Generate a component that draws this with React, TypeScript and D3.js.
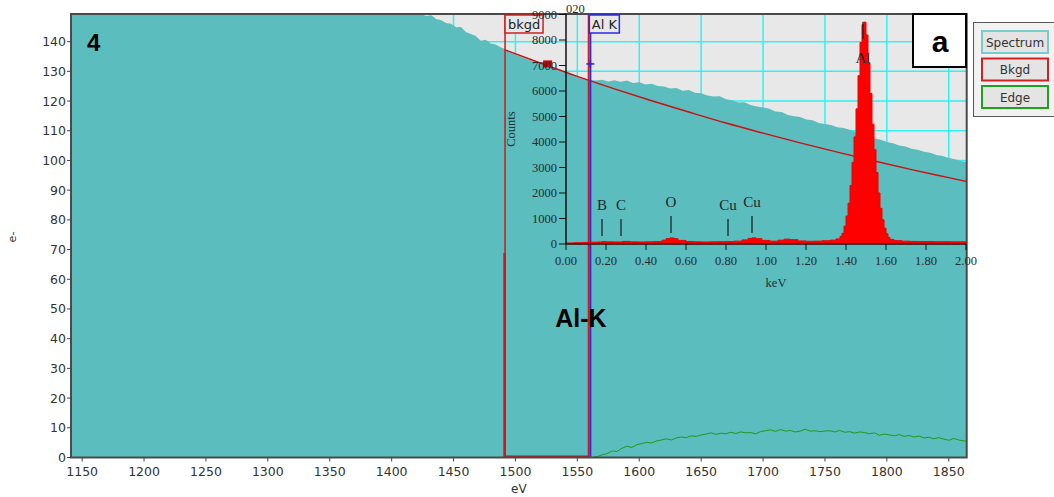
import * as d3 from "d3";

// main EELS spectrum (eV vs e-)
const spectrumEv = [1141, 1200, 1260, 1320, 1380, 1410, 1424, 1428, 1432, 1436, 1440, 1444, 1448, 1452, 1456, 1460, 1464, 1468, 1472, 1476, 1480, 1484, 1488, 1491,
  1495, 1500, 1505, 1510, 1515, 1520, 1525, 1530, 1535, 1540, 1545, 1550, 1555, 1560,
  1565, 1570, 1575, 1580, 1585, 1590, 1595, 1600, 1605, 1610, 1615, 1620, 1625, 1630, 1635, 1640, 1645, 1650, 1655, 1660, 1665, 1670, 1675, 1680, 1685, 1690, 1695, 1700,
  1705, 1710, 1715, 1720, 1725, 1730, 1735, 1740, 1745, 1750, 1755, 1760, 1765, 1770, 1775, 1780, 1785, 1790, 1795, 1800, 1805, 1810, 1815, 1820, 1825, 1830, 1835, 1840,
  1845, 1850, 1855, 1860, 1864.5];
const spectrumCounts = [182, 174, 166, 159, 153.5, 150.5, 149.2, 148.6, 148.9, 147.6, 147.2, 146.3, 146.0, 144.8, 144.9, 143.2, 142.6, 141.9, 140.3, 140.6, 139.4, 139.0, 138.1, 137.6,
  136.4, 135.6, 134.8, 134.0, 133.3, 132.6, 131.8, 131.1, 130.3, 129.6, 128.9, 128.2, 127.5, 127.1,
  126.9, 127.2, 126.6, 127.0, 126.5, 126.9, 126.1, 126.3, 125.6, 125.8, 125.1, 124.9, 124.2, 124.4, 123.5, 123.7, 122.8, 122.6, 121.9, 121.5, 121.6, 120.6, 120.3, 119.5, 119.6, 118.7, 118.2, 117.8,
  117.4, 116.5, 116.3, 115.3, 114.9, 114.6, 113.8, 113.5, 112.6, 112.3, 111.9, 111.2, 110.9, 110.3, 109.6, 108.8, 108.4, 107.5, 107.0, 106.2, 105.8, 105.0, 104.7, 103.9, 103.6, 102.9, 102.6, 101.8,
  101.5, 100.8, 100.4, 99.8, 99.5];

// fitted power-law background
const bkgdEv = [1491.6, 1520, 1550, 1580, 1610, 1640, 1670, 1700, 1730, 1760, 1790, 1820, 1850, 1864.5];
const bkgdCounts = [137.2, 132.8, 128.3, 124.1, 120.1, 116.3, 112.6, 109.2, 105.9, 102.8, 99.8, 96.9, 94.2, 92.9];

// background-subtracted edge
const edgeEv = [1562, 1566, 1570, 1574, 1578, 1582, 1586, 1590, 1594, 1598, 1602, 1606, 1610, 1614, 1618, 1622, 1626, 1630, 1634, 1638, 1642, 1646, 1650, 1654, 1658, 1662,
  1666, 1670, 1674, 1678, 1682, 1686, 1690, 1694, 1698, 1702, 1706, 1710, 1714, 1718, 1722, 1726, 1730, 1734, 1738, 1742, 1746, 1750, 1754, 1758, 1762, 1766, 1770, 1774,
  1778, 1782, 1786, 1790, 1794, 1798, 1802, 1806, 1810, 1814, 1818, 1822, 1826, 1830, 1834, 1838, 1842, 1846, 1850, 1854, 1858, 1862, 1864.5];
const edgeCounts = [0.0, 0.3, 0.9, 1.3, 2.2, 2.0, 3.1, 3.8, 3.4, 4.3, 4.7, 5.1, 4.9, 5.6, 5.9, 6.3, 5.9, 6.6, 6.9, 6.7, 7.3, 7.1, 7.6, 7.9, 8.3, 7.8,
  8.2, 8.0, 8.5, 8.1, 8.6, 8.3, 8.4, 8.0, 8.7, 9.0, 9.3, 8.8, 9.4, 8.9, 9.1, 8.6, 8.9, 9.5, 8.9, 9.0, 8.7, 8.9, 9.0, 8.6, 9.1, 8.5, 8.7, 8.2,
  8.6, 8.4, 8.0, 8.3, 7.5, 7.9, 7.6, 7.3, 7.7, 7.1, 7.4, 6.9, 7.2, 6.6, 6.8, 6.3, 6.7, 6.2, 5.8, 6.4, 5.9, 5.6, 5.5];

// inset EDS spectrum (keV vs counts)
const edsKev = [0, 0.04, 0.08, 0.12, 0.16, 0.18, 0.2, 0.24, 0.28, 0.32, 0.36, 0.4, 0.44, 0.48, 0.5, 0.52, 0.54, 0.56, 0.6, 0.64, 0.68, 0.72, 0.76, 0.8, 0.84, 0.88,
  0.91, 0.93, 0.95, 0.98, 1.02, 1.06, 1.09, 1.12, 1.16, 1.2, 1.24, 1.28, 1.32, 1.35, 1.37, 1.38, 1.39, 1.4, 1.41, 1.42, 1.43, 1.44, 1.45, 1.46, 1.47, 1.48, 1.49,
  1.5, 1.51, 1.52, 1.53, 1.54, 1.55, 1.56, 1.57, 1.58, 1.59, 1.6, 1.61, 1.62, 1.64, 1.68, 1.72, 1.76, 1.8, 1.84, 1.88, 1.92, 1.96, 2.0];
const edsCounts = [40, 50, 60, 70, 80, 95, 85, 80, 100, 85, 80, 85, 95, 150, 210, 240, 210, 140, 95, 85, 80, 85, 90, 95, 110, 160,
  220, 240, 210, 140, 110, 150, 190, 170, 120, 105, 110, 125, 150, 200, 300, 420, 700, 1100, 1600, 2300, 3200, 4200, 5300, 6600, 7900, 8600, 8700,
  8200, 7100, 5900, 4700, 3700, 2800, 2000, 1400, 950, 620, 400, 260, 180, 130, 110, 100, 95, 95, 90, 90, 85, 85, 80];

const evTicks = [1150, 1200, 1250, 1300, 1350, 1400, 1450, 1500, 1550, 1600, 1650, 1700, 1750, 1800, 1850];
const eTicks = [0, 10, 20, 30, 40, 50, 60, 70, 80, 90, 100, 110, 120, 130, 140];
const kevTicks = [0, 0.2, 0.4, 0.6, 0.8, 1.0, 1.2, 1.4, 1.6, 1.8, 2.0];
const edsTicks = [0, 1000, 2000, 3000, 4000, 5000, 6000, 7000, 8000, 9000];

const peakNames = ["B", "C", "O", "Cu", "Cu", "Al"];
const peakKev = [0.18, 0.275, 0.525, 0.81, 0.93, 1.485];
const peakMarkCounts = [310, 310, 430, 310, 430, 8050];

const legendItems = ["Spectrum", "Bkgd", "Edge"];
const legendColors = ["#78cccc", "#d42020", "#22a022"];

const bkgdWindow = [1491.6, 1559];
const edgeOnset = 1560.5;

const W = 1054;
const H = 497;
const plot = { left: 71, right: 966.7, top: 14, bottom: 457.5 };
const inset = { left: 566, right: 966, top: 14.5, bottom: 244 };

const TEAL = "#5bbdbd";
const serif = "'Liberation Serif', 'Times New Roman', serif";
const sans = "'DejaVu Sans', Verdana, sans-serif";
const bold = "'Liberation Sans', Arial, sans-serif";

export default function App() {
  const x = d3.scaleLinear().domain([1141, 1864.5]).range([plot.left, plot.right]);
  const y = d3.scaleLinear().domain([0, 149.3]).range([plot.bottom, plot.top]);
  const kx = d3.scaleLinear().domain([0, 2]).range([inset.left, inset.right]);
  const ky = d3.scaleLinear().domain([0, 9000]).range([inset.bottom, inset.top]);

  const specArea = d3
    .area<number>()
    .x((d, i) => x(spectrumEv[i]))
    .y0(y(0))
    .y1((d) => y(d));
  const bkgdLine = d3
    .line<number>()
    .x((d, i) => x(bkgdEv[i]))
    .y((d) => y(d))
    .curve(d3.curveMonotoneX);
  const edgeLine = d3
    .line<number>()
    .x((d, i) => x(edgeEv[i]))
    .y((d) => y(d));
  const edsArea = d3
    .area<number>()
    .x((d, i) => kx(edsKev[i]))
    .y0(ky(0))
    .y1((d) => ky(d))
    .curve(d3.curveStepAfter);

  const wx0 = x(bkgdWindow[0]);
  const wx1 = x(bkgdWindow[1]);
  const ex = x(edgeOnset);
  const markerY = y(132.5);

  return (
    <svg width={W} height={H} style={{ position: "absolute", left: 0, top: 0, background: "#fff" }}>
      <defs>
        <clipPath id="plotClip">
          <rect x={plot.left} y={plot.top} width={plot.right - plot.left} height={plot.bottom - plot.top} />
        </clipPath>
      </defs>

      {/* main plot background + grid */}
      <rect x={plot.left} y={plot.top} width={plot.right - plot.left} height={plot.bottom - plot.top} fill="#e8e8e8" />
      <g stroke="#2ef2f2" strokeWidth={1.5} clipPath="url(#plotClip)">
        {evTicks.map((t) => (
          <line key={"gx" + t} x1={x(t)} x2={x(t)} y1={plot.top} y2={plot.bottom} />
        ))}
        {eTicks.map((t) => (
          <line key={"gy" + t} x1={plot.left} x2={plot.right} y1={y(t)} y2={y(t)} />
        ))}
      </g>

      <g clipPath="url(#plotClip)">
        <path d={specArea(spectrumCounts) || ""} fill={TEAL} />
        <path d={edgeLine(edgeCounts) || ""} fill="none" stroke="#1e9a1e" strokeWidth={1} />
        <path d={bkgdLine(bkgdCounts) || ""} fill="none" stroke="#cc1010" strokeWidth={1.4} />
        {/* background window */}
        <line x1={wx0} x2={wx0} y1={plot.top} y2={plot.bottom} stroke="#d01818" strokeWidth={1.5} />
        <line x1={wx0 - 0.5} x2={wx0 - 0.5} y1={253} y2={plot.bottom} stroke="#e01010" strokeWidth={2.5} />
        <line x1={wx1} x2={wx1} y1={plot.top} y2={plot.bottom} stroke="#d01818" strokeWidth={1.5} />
        <line x1={wx0} x2={wx1} y1={plot.bottom - 1} y2={plot.bottom - 1} stroke="#c01818" strokeWidth={2} />
        <line x1={ex} x2={ex} y1={plot.top} y2={plot.bottom} stroke="#2a2ae6" strokeWidth={2} />
      </g>

      {/* frame */}
      <rect x={plot.left} y={plot.top} width={plot.right - plot.left} height={plot.bottom - plot.top} fill="none" stroke="#4a4a4a" strokeWidth={2} />

      {/* main axes */}
      <g fontFamily={sans} fontSize={12.5} fill="#333">
        {evTicks.map((t) => (
          <g key={"xt" + t}>
            <line x1={x(t)} x2={x(t)} y1={plot.bottom} y2={plot.bottom + 4} stroke="#444" />
            <text x={x(t)} y={476} textAnchor="middle">{t}</text>
          </g>
        ))}
        {eTicks.map((t) => (
          <g key={"yt" + t}>
            <line x1={plot.left - 4} x2={plot.left} y1={y(t)} y2={y(t)} stroke="#444" />
            <text x={plot.left - 5} y={y(t)} dy="0.36em" textAnchor="end">{t}</text>
          </g>
        ))}
        <text x={(plot.left + plot.right) / 2} y={493} textAnchor="middle" fontSize={12}>eV</text>
        <text transform="translate(16,237) rotate(-90)" textAnchor="middle" fontSize={11}>e-</text>
      </g>

      {/* window labels and markers */}
      <rect x={wx0} y={15} width={38} height={18} fill="#e8e8e8" stroke="#d02020" strokeWidth={1.5} />
      <text x={wx0 + 19} y={29} textAnchor="middle" fontFamily={sans} fontSize={13} fill="#222">bkgd</text>
      <rect x={ex - 1} y={15} width={30} height={18} fill="#e8e8e8" stroke="#2a2ae6" strokeWidth={1.5} />
      <text x={ex + 14} y={29} textAnchor="middle" fontFamily={sans} fontSize={13} fill="#222">Al K</text>
      <rect x={x(1526) - 4.5} y={markerY - 3.5} width={9} height={7} fill="#d00000" />
      <g stroke="#2020ff" strokeWidth={1.5}>
        <line x1={ex - 4} x2={ex + 4} y1={markerY} y2={markerY} />
        <line x1={ex} x2={ex} y1={markerY - 4} y2={markerY + 4} />
      </g>

      {/* inset EDS spectrum */}
      <path d={edsArea(edsCounts) || ""} fill="#ff0000" stroke="#ee0000" strokeWidth={1} />
      <g fontFamily={serif} fontSize={12.5} fill="#1f2d35">
        <line x1={inset.left} x2={inset.left} y1={inset.top - 1} y2={inset.bottom} stroke="#111" strokeWidth={1.5} />
        <line x1={inset.left} x2={inset.right} y1={inset.bottom} y2={inset.bottom} stroke="#222" strokeWidth={1.5} />
        {edsTicks.map((t) => (
          <g key={"ey" + t}>
            <line x1={inset.left - 7} x2={inset.left} y1={ky(t)} y2={ky(t)} stroke="#111" />
            <text x={inset.left - 9} y={ky(t)} dy="0.34em" textAnchor="end">{t}</text>
          </g>
        ))}
        {kevTicks.map((t) => (
          <g key={"ex" + t}>
            <line x1={kx(t)} x2={kx(t)} y1={inset.bottom} y2={inset.bottom + 6} stroke="#111" />
            <text x={kx(t)} y={264.5} textAnchor="middle">{d3.format(".2f")(t)}</text>
          </g>
        ))}
        <text x={776} y={287} textAnchor="middle">keV</text>
        <text transform="translate(515,129) rotate(-90)" textAnchor="middle">Counts</text>
        <text x={566} y={12.5}>020</text>
      </g>
      <g fontFamily={serif} fontSize={15} fill="#1a262c">
        {peakNames.map((n, i) => {
          const px = kx(peakKev[i]);
          const yb = ky(peakMarkCounts[i]);
          const below = n === "Al";
          return (
            <g key={"pk" + i}>
              <line x1={px} x2={px} y1={yb} y2={yb - 17} stroke="#1a262c" strokeWidth={1.3} />
              <text x={px} y={below ? yb + 24 : yb - 26} textAnchor="middle">{n}</text>
            </g>
          );
        })}
      </g>

      {/* panel annotations */}
      <text x={87} y={51} fontFamily={bold} fontWeight="bold" fontSize={24} fill="#000">4</text>
      <text x={581} y={327} textAnchor="middle" fontFamily={bold} fontWeight="bold" fontSize={25} fill="#000">Al-K</text>
      <rect x={913} y={14} width={53} height={53} fill="#fff" stroke="#000" strokeWidth={2} />
      <text x={940} y={52} textAnchor="middle" fontFamily={bold} fontWeight="bold" fontSize={30} fill="#000">a</text>

      {/* legend */}
      <rect x={973.5} y={22.5} width={90} height={94} fill="#f2f2f2" stroke="#555" strokeWidth={1} />
      {legendItems.map((name, i) => (
        <g key={name}>
          <rect x={982} y={31 + i * 27.5} width={66} height={22} fill="#e4e4e4" stroke={legendColors[i]} strokeWidth={2} />
          <text x={1015} y={46.5 + i * 27.5} textAnchor="middle" fontFamily={sans} fontSize={12} fill="#333">{name}</text>
        </g>
      ))}
    </svg>
  );
}
